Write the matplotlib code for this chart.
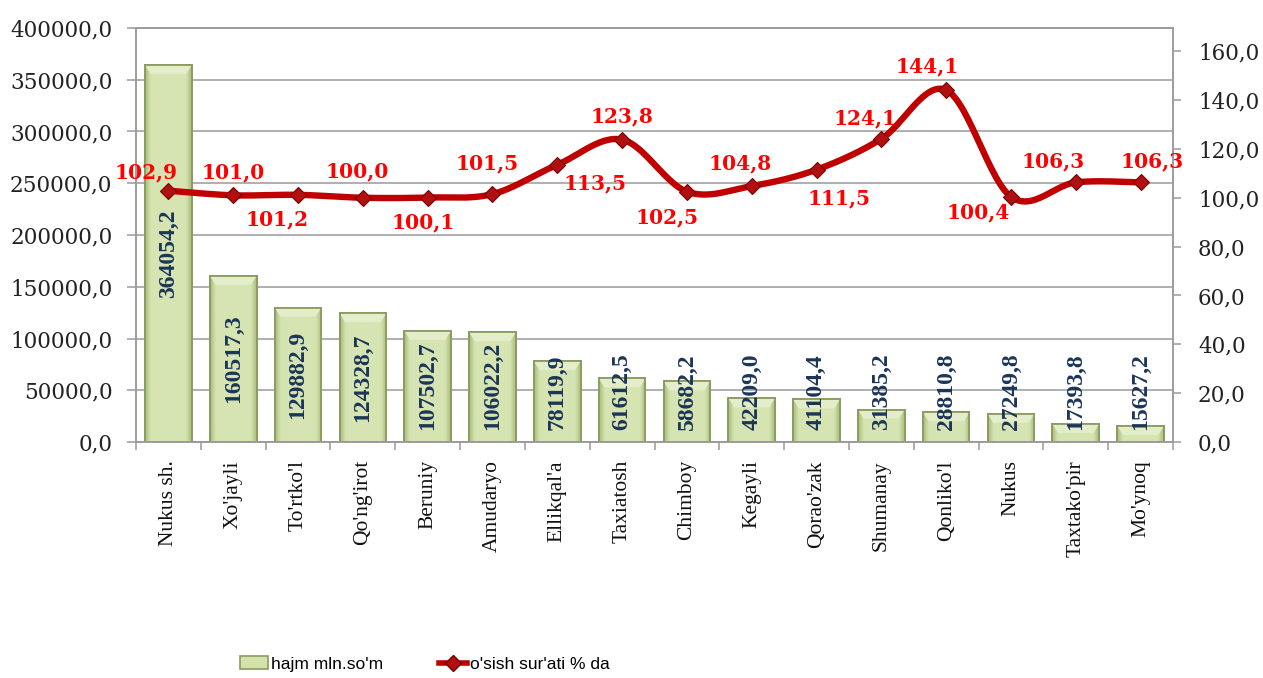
import numpy as np
import matplotlib
matplotlib.use("Agg")
import matplotlib.pyplot as plt
from matplotlib.lines import Line2D
from matplotlib.patches import Patch
from matplotlib.colors import to_rgb

# ---------------- data ----------------
categories = ["Nukus sh.", "Xo'jayli", "To'rtko'l", "Qo'ng'irot", "Beruniy", "Amudaryo",
              "Ellikqal'a", "Taxiatosh", "Chimboy", "Kegayli", "Qorao'zak", "Shumanay",
              "Qonliko'l", "Nukus", "Taxtako'pir", "Mo'ynoq"]
volume = [364054.2, 160517.3, 129882.9, 124328.7, 107502.7, 106022.2, 78119.9, 61612.5,
          58682.2, 42209.0, 41104.4, 31385.2, 28810.8, 27249.8, 17393.8, 15627.2]
growth = [102.9, 101.0, 101.2, 100.0, 100.1, 101.5, 113.5, 123.8,
          102.5, 104.8, 111.5, 124.1, 144.1, 100.4, 106.3, 106.3]
series_names = ["hajm mln.so'm", "o'sish sur'ati % da"]

# label offsets in pixels (dx, dy; dy positive = down) -- styling only
growth_label_offsets = [(-22, -18), (0, -23), (-21, 25), (-6, -26), (-4, 25), (-5, -31),
                        (38, 19), (0, -23), (-20, 26), (-12, -23), (23, 29), (-16, -21),
                        (-19, -24), (-33, 16), (-23, -21), (12, -21)]

BAR_FACE = "#D3E2AA"
BAR_EDGE = "#8A9B60"
LINE_COL = "#C00000"
GRID_COL = "#9A9A9A"
NAVY = "#1B3558"

def fmt(v):
    return f"{v:.1f}".replace(".", ",")

fig = plt.figure(figsize=(12.63, 6.78), dpi=100)
ax = fig.add_axes([136 / 1263, 1 - 442 / 678, (1173 - 136) / 1263, (442 - 28) / 678])
x = np.arange(len(categories))

bars = ax.bar(x, volume, width=0.72, color=BAR_FACE, edgecolor=BAR_EDGE, linewidth=1.3, zorder=2)

# bevel-like gradient fill inside each bar
edge_c = np.array(to_rgb("#A9BD7B"))
mid_c = np.array(to_rgb("#D6E4B2"))
top_c = np.array(to_rgb("#E4EDC9"))
gw = np.linspace(0, 1, 60)
prof = np.clip(np.minimum(gw, 1 - gw) / 0.12, 0, 1)
for rect in bars:
    x0 = rect.get_x(); w = rect.get_width(); h = rect.get_height()
    img = edge_c[None, :] * (1 - prof[:, None]) + mid_c[None, :] * prof[:, None]
    img = np.repeat(img[None, :, :], 2, axis=0)
    im = ax.imshow(img, extent=[x0, x0 + w, 0, h], aspect="auto", origin="lower",
                   zorder=2.1, interpolation="bilinear")
    im.set_clip_path(rect)
    band_h = min(h, 400000 * 9 / 414)
    ax.fill([x0, x0 + w, x0 + w * 0.88, x0 + w * 0.12], [h, h, h - band_h, h - band_h],
            color=top_c, zorder=2.2, linewidth=0)
    ax.add_patch(plt.Rectangle((x0, 0), w, h, fill=False, edgecolor=BAR_EDGE,
                               linewidth=1.3, zorder=2.3))

ax.set_xlim(-0.5, len(categories) - 0.5)
ax.set_ylim(0, 400000)
ax.set_yticks(np.arange(0, 400001, 50000))
ax.set_yticklabels([fmt(v) for v in np.arange(0, 400001, 50000)],
                   family="DejaVu Serif", fontsize=15.5, color="#222222")
ax.yaxis.grid(True, color=GRID_COL, linewidth=1.1, zorder=0)
ax.set_axisbelow(True)
ax.set_xticks(x)
ax.set_xticklabels(categories, rotation=90, family="Liberation Serif", fontsize=15.5,
                   color="#111111")
ax.set_xticks(np.arange(-0.5, len(categories)), minor=True)
ax.tick_params(axis="x", which="major", length=0, pad=13)
ax.tick_params(axis="x", which="minor", length=6, color=GRID_COL, width=1.1)
ax.tick_params(axis="y", length=6.5, color=GRID_COL, width=1.1, pad=10.5)
for s in ax.spines.values():
    s.set_color(GRID_COL)
    s.set_linewidth(1.1)

# bar value labels
bar_texts = []
for xi, v in zip(x, volume):
    t = ax.text(xi, v / 2, fmt(v), rotation=90, ha="center", va="center",
                family="Liberation Serif", fontweight="bold", fontsize=17, color=NAVY,
                zorder=3)
    bar_texts.append(t)

# secondary axis
ax2 = ax.twinx()
ax2.set_ylim(0, 169.5)
ax2.set_yticks(np.arange(0, 161, 20))
ax2.set_yticklabels([fmt(v) for v in np.arange(0, 161, 20)],
                    family="DejaVu Serif", fontsize=15.5, color="#222222")
ax2.tick_params(axis="y", length=6, color=GRID_COL, width=1.1, pad=12)
for s in ax2.spines.values():
    s.set_color(GRID_COL)
    s.set_linewidth(1.1)

# smooth line (Excel-like Bezier / Catmull-Rom rendering through the data points)
px = np.asarray(x, dtype=float)
py = np.asarray(growth, dtype=float)
n = len(px)
cx, cy = [], []
tt = np.linspace(0, 1, 30)
for i in range(n - 1):
    p0 = np.array([px[max(i - 1, 0)], py[max(i - 1, 0)]])
    p1 = np.array([px[i], py[i]])
    p2 = np.array([px[i + 1], py[i + 1]])
    p3 = np.array([px[min(i + 2, n - 1)], py[min(i + 2, n - 1)]])
    c1 = p1 + (p2 - p0) / 6
    c2 = p2 - (p3 - p1) / 6
    for t in (tt[:-1] if i < n - 2 else tt):
        b = ((1 - t) ** 3) * p1 + 3 * ((1 - t) ** 2) * t * c1 + 3 * (1 - t) * t ** 2 * c2 + t ** 3 * p2
        cx.append(b[0]); cy.append(b[1])
ax2.plot(cx, cy, color=LINE_COL, linewidth=4.6, solid_capstyle="round", zorder=4)
ax2.plot(px, py, linestyle="none", marker="D", markersize=8.5, color="#B01010",
         markeredgecolor="#7A0000", markeredgewidth=0.8, zorder=5)

for xi, g, (dx, dy) in zip(px, growth, growth_label_offsets):
    ax2.annotate(fmt(g), (xi, g), xytext=(dx, -dy), textcoords="offset pixels",
                 ha="center", va="center", family="DejaVu Serif", fontweight="bold",
                 fontsize=14.5, color="#FF0000", zorder=6, annotation_clip=False)

# legend
handles = [Patch(facecolor=BAR_FACE, edgecolor=BAR_EDGE, linewidth=1.2),
           Line2D([0], [0], color=LINE_COL, linewidth=4, marker="D", markersize=8,
                  markerfacecolor="#B01010", markeredgecolor="#7A0000")]
leg = fig.legend(handles, series_names, loc="center left",
                 bbox_to_anchor=(240 / 1263, 1 - 664 / 678),
                 ncol=2, frameon=False, prop={"family": "Liberation Sans", "size": 12.5},
                 handlelength=1.6, handletextpad=0.2, columnspacing=3.2,
                 borderpad=0, borderaxespad=0)

# keep bar labels clear of the axis: bottom at least ~12 px above baseline
fig.canvas.draw()
renderer = fig.canvas.get_renderer()
base_y = ax.transData.transform((0, 0))[1]
for t in bar_texts:
    ext = t.get_window_extent(renderer)
    min_bottom = base_y + 12
    if ext.y0 < min_bottom:
        shift = min_bottom - ext.y0
        xd, yd = t.get_position()
        disp = ax.transData.transform((xd, yd))
        new = ax.transData.inverted().transform((disp[0], disp[1] + shift))
        t.set_position((xd, new[1]))

fig.savefig("out.png", dpi=100)
